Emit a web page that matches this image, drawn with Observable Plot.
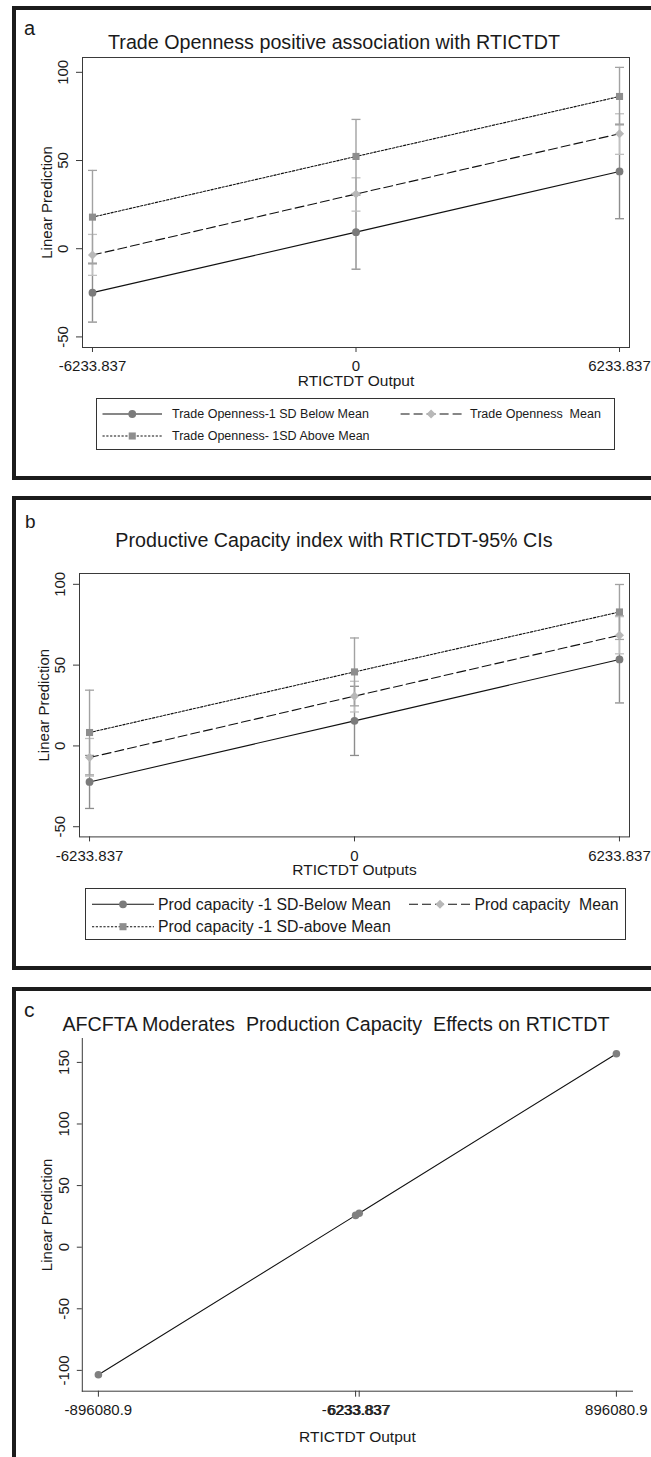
<!DOCTYPE html>
<html>
<head>
<meta charset="utf-8">
<script src="https://cdn.jsdelivr.net/npm/d3@7"></script>
<script src="https://cdn.jsdelivr.net/npm/@observablehq/plot@0.6"></script>
<style>
html,body{margin:0;padding:0;background:#fff;}
#page{position:relative;width:651px;height:1457px;overflow:hidden;font-family:"Liberation Sans",Arial,Helvetica,sans-serif;color:#1a1a1a;background:#fff;}
#page > svg{position:absolute;left:0;}
#deco{top:0;pointer-events:none;}
</style>
</head>
<body>
<div id="page"></div>
<script>
// ================= DATA =================
const xLevels = [-6233.837, 0, 6233.837];
const xTickLabels = ["-6233.837", "0", "6233.837"];
const yTicksAB = [-50, 0, 50, 100];

// Panel a
const titleA = "Trade Openness positive association with RTICTDT";
const xLabelA = "RTICTDT Output";
const seriesA = ["Trade Openness-1 SD Below Mean", "Trade Openness  Mean", "Trade Openness- 1SD Above Mean"];
const aBelow = [-24.9, 9.4, 43.8];
const aBelowLo = [-41.6, -11.6, 17.0];
const aBelowHi = [-8.2, 30.4, 70.6];
const aMean = [-3.6, 31.0, 65.2];
const aMeanLo = [-15.1, 21.3, 53.5];
const aMeanHi = [8.1, 40.2, 76.5];
const aAbove = [17.9, 52.3, 86.3];
const aAboveLo = [-8.6, 31.3, 70.2];
const aAboveHi = [44.4, 73.3, 102.8];

// Panel b
const titleB = "Productive Capacity index with RTICTDT-95% CIs";
const xLabelB = "RTICTDT Outputs";
const seriesB = ["Prod capacity -1 SD-Below Mean", "Prod capacity  Mean", "Prod capacity -1 SD-above Mean"];
const bBelow = [-22.3, 15.5, 53.5];
const bBelowLo = [-38.7, -5.9, 26.6];
const bBelowHi = [-5.9, 36.9, 80.4];
const bMean = [-7.2, 30.8, 68.5];
const bMeanLo = [-18.7, 21.0, 57.0];
const bMeanHi = [4.6, 40.0, 80.0];
const bAbove = [8.3, 45.8, 82.9];
const bAboveLo = [-17.9, 24.8, 65.9];
const bAboveHi = [34.5, 66.8, 99.9];

// Panel c
const titleC = "AFCFTA Moderates  Production Capacity  Effects on RTICTDT";
const xLabelC = "RTICTDT Output";
const cX = [-896080.9, -6233.837, 6233.837, 896080.9];
const cXTickLabels = ["-896080.9", "-6233.837", "6233.837", "896080.9"];
const cY = [-103.6, 25.8, 27.6, 157.0];
const yTicksC = [-100, -50, 0, 50, 100, 150];

const yLabel = "Linear Prediction";
const panelLetters = ["a", "b", "c"];

// ================= STYLES =================
const FONT = "'Liberation Sans', Arial, Helvetica, sans-serif";
const seriesStyle = [
  {symbol: "circle", d3sym: d3.symbolCircle, fill: "#7b7b7b", ci: "#8d8d8d", dash: null, r: 3.9},
  {symbol: "diamond2", d3sym: d3.symbolDiamond2, fill: "#b8b8b8", ci: "#c0c0c0", dash: "9,4", r: 4.1},
  {symbol: "square", d3sym: d3.symbolSquare, fill: "#8e8e8e", ci: "#a2a2a2", dash: "2.2,1.6", r: 4.0}
];
const capSymbol = {draw(ctx, size) { const w = Math.sqrt(size / Math.PI); ctx.moveTo(-w, 0); ctx.lineTo(w, 0); }};

const page = document.getElementById("page");

function place(svg, top) {
  svg.style.position = "absolute";
  svg.style.left = "0px";
  svg.style.top = top + "px";
  page.appendChild(svg);
}

function ciPanel(cfg) {
  const marks = [Plot.frame({stroke: "#3a3a3a", strokeWidth: 1})];
  marks.push(Plot.axisX({ticks: xLevels, tickFormat: d => xTickLabels[xLevels.indexOf(d)], tickSize: 5, tickPadding: 8, label: null, stroke: "#3a3a3a"}));
  marks.push(Plot.axisY({ticks: yTicksAB, tickFormat: d => String(d), tickRotate: -90, tickSize: 6, tickPadding: 9, label: null, stroke: "#3a3a3a"}));
  cfg.series.forEach((name, s) => {
    const rows = xLevels.map((x, i) => ({name, x, y: cfg.vals[s][i], lo: cfg.lo[s][i], hi: cfg.hi[s][i]}));
    const st = seriesStyle[s];
    marks.push(Plot.ruleX(rows, {x: "x", y1: "lo", y2: "hi", stroke: st.ci, strokeWidth: 1.4}));
    marks.push(Plot.dot(rows, {x: "x", y: "lo", symbol: capSymbol, r: 4.5, stroke: st.ci, fill: "none", strokeWidth: 1.3}));
    marks.push(Plot.dot(rows, {x: "x", y: "hi", symbol: capSymbol, r: 4.5, stroke: st.ci, fill: "none", strokeWidth: 1.3}));
  });
  cfg.series.forEach((name, s) => {
    const rows = xLevels.map((x, i) => ({name, x, y: cfg.vals[s][i]}));
    const st = seriesStyle[s];
    marks.push(Plot.line(rows, {x: "x", y: "y", stroke: "#111", strokeWidth: 1.1, strokeDasharray: st.dash || undefined}));
  });
  cfg.series.forEach((name, s) => {
    const rows = xLevels.map((x, i) => ({name, x, y: cfg.vals[s][i]}));
    const st = seriesStyle[s];
    marks.push(Plot.dot(rows, {x: "x", y: "y", symbol: st.symbol, r: st.r, fill: st.fill, stroke: "none"}));
  });
  marks.push(Plot.text([cfg.xLabel], {text: d => d, frameAnchor: "bottom", dy: cfg.xLabelDy, textAnchor: "middle", lineAnchor: "bottom", fontSize: 15.5}));
  marks.push(Plot.text([yLabel], {text: d => d, frameAnchor: "left", dx: -35, rotate: -90, textAnchor: "middle", lineAnchor: "middle", fontSize: 15}));
  return Plot.plot({
    width: 651, height: cfg.height,
    marginLeft: cfg.left, marginRight: 651 - cfg.right, marginTop: 10, marginBottom: cfg.height - 10 - cfg.plotH,
    x: {domain: [-6470, 6470]},
    y: {domain: cfg.yDomain},
    style: {fontSize: "15px", fontFamily: FONT, background: "transparent", color: "#1a1a1a", overflow: "visible"},
    marks
  });
}

// ---- panel a ----
place(ciPanel({
  series: seriesA,
  vals: [aBelow, aMean, aAbove], lo: [aBelowLo, aMeanLo, aAboveLo], hi: [aBelowHi, aMeanHi, aAboveHi],
  left: 82, right: 629, plotH: 290, height: 345, yDomain: [-56, 108.4], xLabel: xLabelA, xLabelDy: 38.7
}), 47);

// ---- panel b ----
place(ciPanel({
  series: seriesB,
  vals: [bBelow, bMean, bAbove], lo: [bBelowLo, bMeanLo, bAboveLo], hi: [bBelowHi, bMeanHi, bAboveHi],
  left: 79, right: 629, plotH: 263.4, height: 318, yDomain: [-56.3, 106.7], xLabel: xLabelB, xLabelDy: 38.5
}), 563.3);

// ---- panel c ----
const cRows = cX.map((x, i) => ({x, y: cY[i]}));
place(Plot.plot({
  width: 651, height: 423,
  marginLeft: 81.8, marginRight: 19, marginTop: 10, marginBottom: 423 - 10 - 352.7,
  x: {domain: [-951800, 951800]},
  y: {domain: [-116.9, 169.4]},
  style: {fontSize: "15px", fontFamily: FONT, background: "transparent", color: "#1a1a1a", overflow: "visible"},
  marks: [
    Plot.frame({anchor: "left", stroke: "#3a3a3a"}),
    Plot.frame({anchor: "bottom", stroke: "#3a3a3a"}),
    Plot.axisX({ticks: cX, tickFormat: d => cXTickLabels[cX.indexOf(d)], tickSize: 6, tickPadding: 7.5, label: null, stroke: "#3a3a3a"}),
    Plot.axisY({ticks: yTicksC, tickFormat: d => String(d), tickRotate: -90, tickSize: 5, tickPadding: 8, label: null, stroke: "#3a3a3a"}),
    Plot.line(cRows, {x: "x", y: "y", stroke: "#111", strokeWidth: 1.1}),
    Plot.dot(cRows, {x: "x", y: "y", symbol: "circle", r: 3.8, fill: "#808080", stroke: "none"}),
    Plot.text([xLabelC], {text: d => d, frameAnchor: "bottom", dy: 50.6, textAnchor: "middle", lineAnchor: "bottom", fontSize: 15.5}),
    Plot.text([yLabel], {text: d => d, frameAnchor: "left", dx: -35, rotate: -90, textAnchor: "middle", lineAnchor: "middle", fontSize: 15})
  ]
}), 1028);

// ================= DECORATIONS (frames, titles, letters, legends) =================
const deco = d3.select(page).append("svg").attr("id", "deco").attr("width", 651).attr("height", 1457)
  .style("font-family", FONT).style("position", "absolute").style("top", "0px").style("left", "0px");

function frame(top, bottom) {
  deco.append("rect").attr("x", 14).attr("y", top + 2).attr("width", 700).attr("height", bottom - top - 4)
    .attr("fill", "none").attr("stroke", "#1c1c1c").attr("stroke-width", 4);
}
frame(6, 480);
frame(496, 970);
frame(987, 1600);

function txt(x, y, s, size, anchor) {
  deco.append("text").attr("x", x).attr("y", y).attr("font-size", size).attr("fill", "#1a1a1a")
    .attr("text-anchor", anchor || "start").style("white-space", "pre").text(s);
}
txt(24, 35, panelLetters[0], 20);
txt(25, 528, panelLetters[1], 19);
txt(24, 1017, panelLetters[2], 21);
txt(334, 49, titleA, 19.7, "middle");
txt(334, 547, titleB, 19.7, "middle");
txt(336, 1031, titleC, 19.7, "middle");

function legend(box, items, fontSize) {
  deco.append("rect").attr("x", box[0] + 0.5).attr("y", box[1] + 0.5).attr("width", box[2] - box[0]).attr("height", box[3] - box[1])
    .attr("fill", "none").attr("stroke", "#333").attr("stroke-width", 1);
  items.forEach(it => {
    const st = seriesStyle[it.s];
    const ln = deco.append("line").attr("x1", it.x1).attr("x2", it.x2).attr("y1", it.y).attr("y2", it.y)
      .attr("stroke", "#111").attr("stroke-width", 1.1);
    if (st.dash) ln.attr("stroke-dasharray", st.dash);
    deco.append("path").attr("d", d3.symbol(st.d3sym, st.r * st.r * Math.PI)())
      .attr("transform", `translate(${(it.x1 + it.x2) / 2},${it.y})`).attr("fill", st.fill);
    deco.append("text").attr("x", it.tx).attr("y", it.y).attr("dominant-baseline", "central")
      .attr("font-size", fontSize).attr("fill", "#1a1a1a").style("white-space", "pre").text(it.label);
  });
}
legend([96, 398, 614, 449], [
  {s: 0, x1: 102.5, x2: 162, y: 414, tx: 172, label: seriesA[0]},
  {s: 1, x1: 400.6, x2: 461.6, y: 414, tx: 470, label: seriesA[1]},
  {s: 2, x1: 102.5, x2: 162, y: 436, tx: 172, label: seriesA[2]}
], 12.5);
legend([85, 888, 625, 939], [
  {s: 0, x1: 92, x2: 154, y: 904.3, tx: 158, label: seriesB[0]},
  {s: 1, x1: 409, x2: 471, y: 904.3, tx: 474.5, label: seriesB[1]},
  {s: 2, x1: 92, x2: 154, y: 926.7, tx: 158, label: seriesB[2]}
], 15.8);
</script>
</body>
</html>
